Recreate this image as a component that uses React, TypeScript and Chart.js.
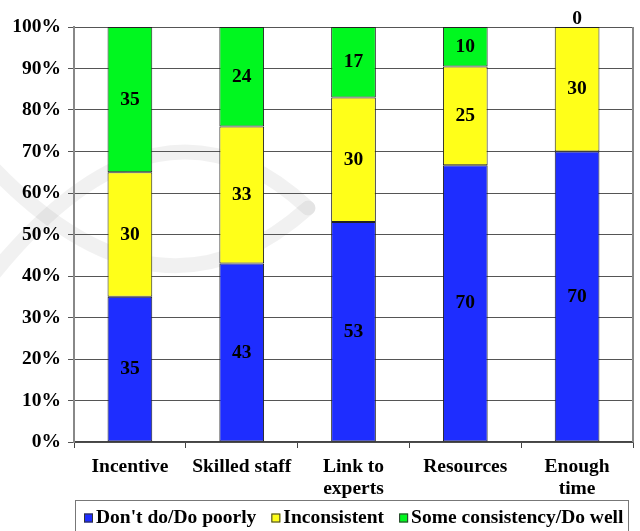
import React, { useEffect, useRef } from "react";
import { Chart, registerables } from "chart.js";

Chart.register(...registerables);

const categories: string[][] = [["Incentive"], ["Skilled staff"], ["Link to", "experts"], ["Resources"], ["Enough", "time"]];
const seriesNames = ["Don't do/Do poorly", "Inconsistent", "Some consistency/Do well"];
const doPoorly = [35, 43, 53, 70, 70];
const inconsistent = [30, 33, 30, 25, 30];
const doWell = [35, 24, 17, 10, 0];
const seriesColors = ["#1e2dff", "#ffff19", "#00f71f"];
const yMax = 100;
const yStep = 10;

const rawSeries = [doPoorly, inconsistent, doWell];
const totals = categories.map((_, j) => rawSeries.reduce((s, arr) => s + arr[j], 0));
const pctSeries = rawSeries.map((arr) => arr.map((v, j) => (v / totals[j]) * 100));

const FAMILY = '"Liberation Serif", "Times New Roman", serif';
const FS = 19.5;

const watermark = {
  id: "watermark",
  beforeDraw(chart: any) {
    const ctx = chart.ctx;
    ctx.save();
    ctx.strokeStyle = "rgba(0,0,0,0.055)";
    ctx.lineWidth = 15;
    ctx.lineCap = "round";
    ctx.beginPath();
    ctx.moveTo(-5, 272);
    ctx.quadraticCurveTo(160, 70, 308, 208);
    ctx.stroke();
    ctx.beginPath();
    ctx.moveTo(-5, 170);
    ctx.quadraticCurveTo(160, 340, 308, 208);
    ctx.stroke();
    ctx.restore();
  },
};

const labelsAndFrame = {
  id: "labelsAndFrame",
  afterDatasetsDraw(chart: any) {
    const ctx = chart.ctx;
    ctx.save();
    ctx.font = `bold ${FS}px ${FAMILY}`;
    ctx.fillStyle = "#000";
    ctx.textAlign = "center";
    ctx.textBaseline = "middle";
    rawSeries.forEach((arr, i) => {
      const meta = chart.getDatasetMeta(i);
      meta.data.forEach((el: any, j: number) => {
        const p = el.getProps(["x", "y", "base"], true);
        const raw = arr[j];
        let cy = (p.y + p.base) / 2;
        if (raw === 0) cy = p.y - 8;
        ctx.fillText(String(raw), p.x, cy);
      });
    });
    ctx.restore();
  },
  afterDraw(chart: any) {
    const ctx = chart.ctx;
    const a = chart.chartArea;
    ctx.save();
    ctx.strokeStyle = "#888";
    ctx.lineWidth = 2;
    ctx.beginPath();
    ctx.moveTo(a.right, a.top);
    ctx.lineTo(a.right, a.bottom);
    ctx.stroke();
    ctx.strokeStyle = "#777";
    ctx.lineWidth = 1;
    ctx.strokeRect(75.5, 500.5, 553, 60);
    ctx.font = `bold ${FS}px ${FAMILY}`;
    ctx.textBaseline = "middle";
    ctx.textAlign = "left";
    let x = 84;
    const cy = 518;
    seriesNames.forEach((name, i) => {
      ctx.fillStyle = seriesColors[i];
      ctx.fillRect(x, cy - 4.5, 9, 9);
      ctx.strokeStyle = "#333";
      ctx.lineWidth = 1;
      ctx.strokeRect(x + 0.5, cy - 4.5 + 0.5, 8, 8);
      ctx.fillStyle = "#000";
      ctx.fillText(name, x + 12, cy);
      x += 12 + ctx.measureText(name).width + 15;
    });
    ctx.restore();
  },
};

export default function App() {
  const ref = useRef<HTMLCanvasElement | null>(null);
  useEffect(() => {
    if (!ref.current) return;
    const chart = new Chart(ref.current, {
      type: "bar",
      data: {
        labels: categories as any,
        datasets: pctSeries.map((d, i) => ({
          label: seriesNames[i],
          data: d,
          backgroundColor: seriesColors[i],
          borderColor: "#222",
          borderWidth: 1,
          borderSkipped: false,
          categoryPercentage: 1,
          barPercentage: 0.4,
        })),
      },
      options: {
        responsive: false,
        animation: false,
        layout: { padding: { top: 27, right: 7, left: 0, bottom: 0 } },
        plugins: {
          legend: { display: false },
          tooltip: { enabled: false },
        },
        scales: {
          x: {
            stacked: true,
            grid: { drawOnChartArea: false, drawTicks: true, tickLength: 6, color: "#444" },
            border: { color: "#444", width: 1.5 },
            ticks: {
              color: "#000",
              padding: 8,
              maxRotation: 0,
              autoSkip: false,
              font: { family: FAMILY, size: FS, weight: "bold", lineHeight: 1.13 },
            },
            afterFit: (s: any) => {
              s.height = 89;
            },
          },
          y: {
            stacked: true,
            min: 0,
            max: yMax,
            grid: { color: "#555", lineWidth: 1, drawTicks: true, tickLength: 6 },
            border: { color: "#888", width: 2 },
            ticks: {
              stepSize: yStep,
              color: "#000",
              padding: 7,
              font: { family: FAMILY, size: FS, weight: "bold" },
              callback: (v: any) => `${v}%`,
            },
            afterFit: (s: any) => {
              s.width = 74;
            },
          },
        },
      },
      plugins: [watermark, labelsAndFrame],
    });
    return () => chart.destroy();
  }, []);
  return (
    <div style={{ position: "absolute", left: 0, top: 0, width: 640, height: 531, background: "#fff" }}>
      <canvas ref={ref} width={640} height={531} />
    </div>
  );
}
